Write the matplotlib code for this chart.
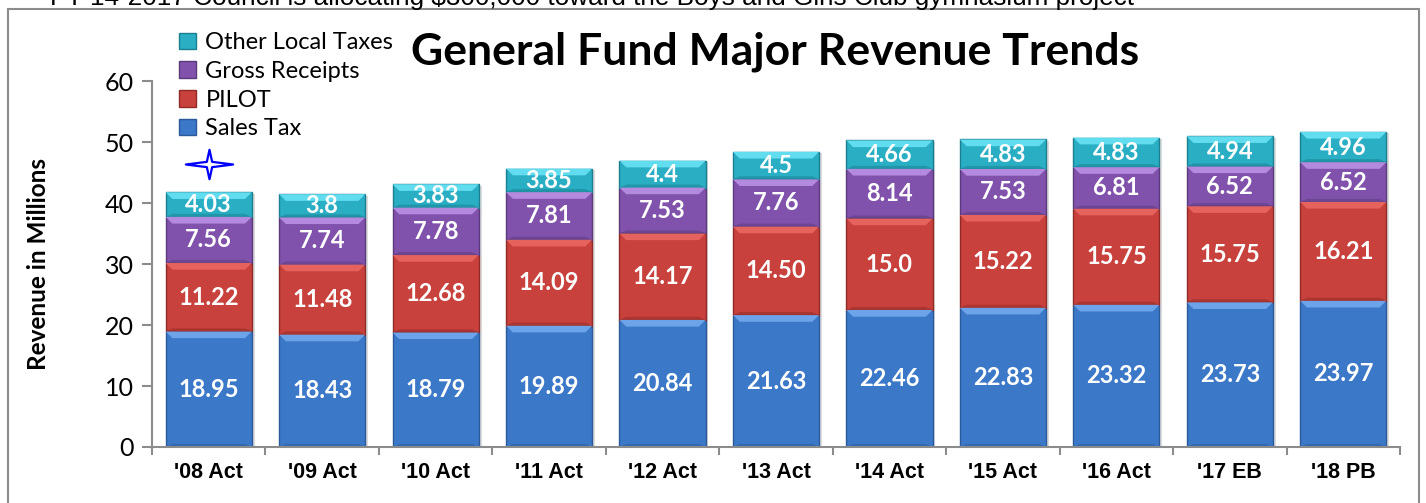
import numpy as np
import matplotlib
matplotlib.use("Agg")
import matplotlib.pyplot as plt
from matplotlib.patches import Patch, Rectangle, Polygon
from matplotlib.path import Path

# data
years = ["'08 Act", "'09 Act", "'10 Act", "'11 Act", "'12 Act", "'13 Act",
         "'14 Act", "'15 Act", "'16 Act", "'17 EB", "'18 PB"]
sales_tax = [18.95, 18.43, 18.79, 19.89, 20.84, 21.63, 22.46, 22.83, 23.32, 23.73, 23.97]
pilot = [11.22, 11.48, 12.68, 14.09, 14.17, 14.50, 15.0, 15.22, 15.75, 15.75, 16.21]
gross_receipts = [7.56, 7.74, 7.78, 7.81, 7.53, 7.76, 8.14, 7.53, 6.81, 6.52, 6.52]
other_local = [4.03, 3.8, 3.83, 3.85, 4.4, 4.5, 4.66, 4.83, 4.83, 4.94, 4.96]

sales_lbl = ["18.95", "18.43", "18.79", "19.89", "20.84", "21.63", "22.46", "22.83", "23.32", "23.73", "23.97"]
pilot_lbl = ["11.22", "11.48", "12.68", "14.09", "14.17", "14.50", "15.0", "15.22", "15.75", "15.75", "16.21"]
gross_lbl = ["7.56", "7.74", "7.78", "7.81", "7.53", "7.76", "8.14", "7.53", "6.81", "6.52", "6.52"]
other_lbl = ["4.03", "3.8", "3.83", "3.85", "4.4", "4.5", "4.66", "4.83", "4.83", "4.94", "4.96"]

series_names = ["Sales Tax", "PILOT", "Gross Receipts", "Other Local Taxes"]
star_year = 0
star_value = 46.4

top_note = "FY 14-2017 Council is allocating $300,000 toward the Boys and Girls Club gymnasium project"

# colours: main, light bevel, dark edge
colors = [("#3c78c8", "#6da3e8", "#2a5a99"),
          ("#c8413c", "#e6625d", "#8f2a27"),
          ("#8052ab", "#b48ade", "#5a3a7c"),
          ("#29aec4", "#62dcef", "#1b7f90")]

W, H = 1426, 503
fig = plt.figure(figsize=(W / 100, H / 100), dpi=100)
ax = fig.add_axes([152 / W, 1 - 447 / H, (1400 - 152) / W, (447 - 81) / H])

x = np.arange(len(years))
width = 0.76
values = [sales_tax, pilot, gross_receipts, other_local]
labels = [sales_lbl, pilot_lbl, gross_lbl, other_lbl]

bottom = np.zeros(len(years))
bev = 1.1       # bevel height in data units
bevx = 0.06     # bevel inset in x
for vals, lbls, (c, cl, cd) in zip(values, labels, colors):
    vals = np.array(vals)
    # soft shadow
    ax.bar(x + 0.025, vals, width, bottom=bottom - 0.25, color="#dcdcdc", zorder=1)
    ax.bar(x, vals, width, bottom=bottom, color=c, edgecolor=cd, linewidth=1, zorder=2)
    for xi, b, v in zip(x, bottom, vals):
        top = b + v
        x0, x1 = xi - width / 2, xi + width / 2
        ax.add_patch(Polygon([[x0, top], [x1, top], [x1 - bevx, top - bev], [x0 + bevx, top - bev]],
                             closed=True, facecolor=cl, edgecolor="none", zorder=3))
        ax.add_patch(Polygon([[x0, b], [x1, b], [x1 - bevx, b + 0.5], [x0 + bevx, b + 0.5]],
                             closed=True, facecolor=cd, edgecolor="none", alpha=0.5, zorder=3))
    for xi, b, v, t in zip(x, bottom, vals, lbls):
        ax.text(xi, b + v / 2, t, ha="center", va="center", color="white",
                fontsize=17, fontweight="bold", family="Lato", zorder=5)
    bottom = bottom + vals

# blue four-point star
star = Path([(0, 1), (0.18, 0.18), (1.6, 0), (0.18, -0.18), (0, -1),
             (-0.18, -0.18), (-1.6, 0), (-0.18, 0.18), (0, 1)], closed=True)
ax.plot([star_year], [star_value], marker=star, markersize=34, markerfacecolor="white",
        markeredgecolor="#0000ff", markeredgewidth=1.6, zorder=6, clip_on=False)

ax.set_xlim(-0.5, len(years) - 0.5)
ax.set_ylim(0, 60)
ax.set_yticks(range(0, 61, 10))
ax.set_xticks(x)
ax.set_xticklabels(years, fontsize=15.5, fontweight="bold", family="Liberation Sans")
ax.set_xticks(np.arange(-0.5, len(years), 1), minor=True)
ax.tick_params(axis="x", which="major", length=0, pad=11)
ax.tick_params(axis="x", which="minor", length=6, width=1.5, color="#8c8c8c")
ax.tick_params(axis="y", length=7, width=1.5, color="#8c8c8c", labelsize=18, pad=6)
for t in ax.get_yticklabels():
    t.set_family("Lato")
for s in ["top", "right"]:
    ax.spines[s].set_visible(False)
for s in ["left", "bottom"]:
    ax.spines[s].set_color("#8c8c8c")
    ax.spines[s].set_linewidth(1.5)
ax.spines["bottom"].set_zorder(7)

fig.text(39 / W, 1 - 264 / H, "Revenue in Millions", rotation=90, ha="center", va="center",
         fontsize=17.5, fontweight="bold", family="Lato")

fig.text(775 / W, 1 - 52 / H, "General Fund Major Revenue Trends", ha="center", va="center",
         fontsize=32, fontweight="bold", family="Lato")

handles = [Patch(facecolor=c, edgecolor=cd, linewidth=1) for c, cl, cd in colors][::-1]
fig.legend(handles, series_names[::-1], loc="upper left", bbox_to_anchor=(170 / W, 1 - 23 / H),
           frameon=False, handlelength=0.7, handleheight=0.7, handletextpad=0.4,
           labelspacing=0.32, borderaxespad=0, prop={"family": "Lato", "size": 17})

# outer frame and the note above it, cut off by the top edge as in the original
fig.patches.append(Rectangle((8 / W, -0.1), (1419 - 8) / W, 1.1 - 9 / H, transform=fig.transFigure,
                             fill=False, edgecolor="#8c8c8c", linewidth=1.5))
fig.text(50 / W, 1 - 5 / H, top_note, ha="left", va="baseline", fontsize=18.8,
         family="Liberation Sans")

fig.savefig("out.png", dpi=100)
